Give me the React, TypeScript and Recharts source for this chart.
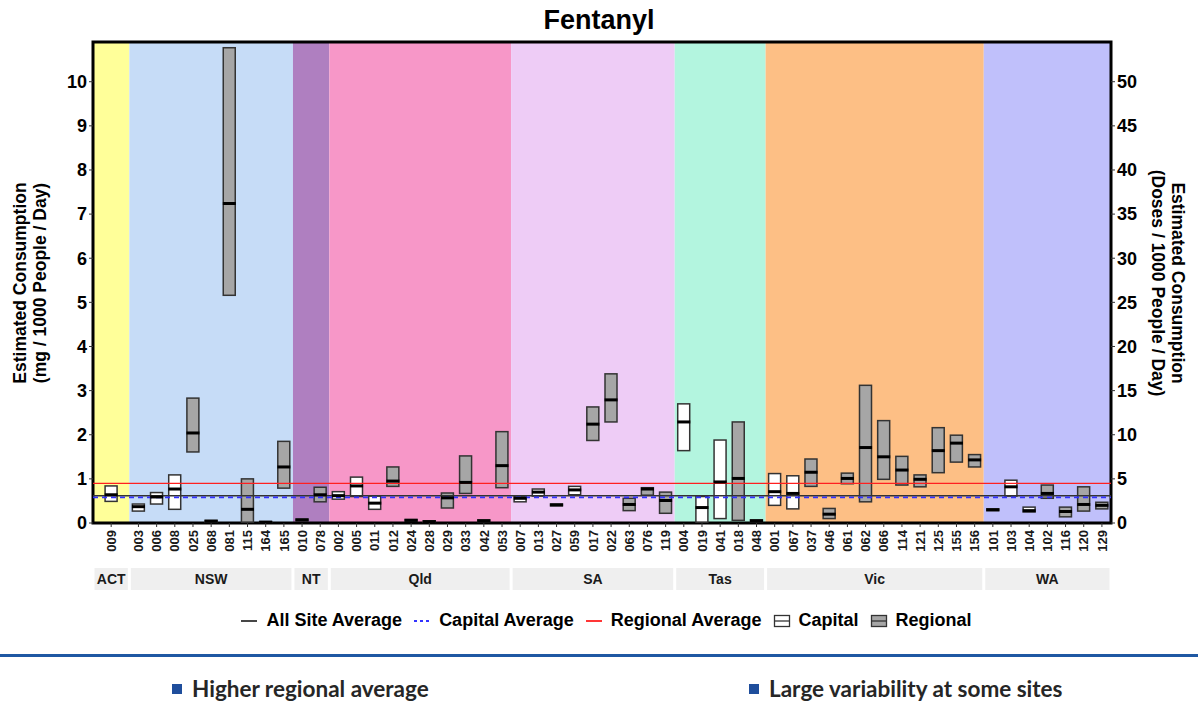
import React from "react";
import {
  ComposedChart,
  Bar,
  Scatter,
  XAxis,
  YAxis,
  ReferenceArea,
  ReferenceLine,
} from "recharts";

// states (facets) and how many slots each one takes on the x axis
const states = ["ACT", "NSW", "NT", "Qld", "SA", "Tas", "Vic", "WA"];
const stateSlots = [2, 9, 2, 10, 9, 5, 12, 7];
const stateColors = [
  "#FFFF99",
  "#C6DCF7",
  "#AF7FC0",
  "#F797C8",
  "#EECCF6",
  "#B3F5DF",
  "#FDBF85",
  "#C0C0FB",
];

const siteCodes = [
  "009",
  "003", "006", "008", "025", "068", "081", "115", "164", "165",
  "010", "078",
  "002", "005", "011", "012", "024", "028", "029", "033", "042", "053",
  "007", "013", "027", "059", "017", "022", "063", "076", "119",
  "004", "019", "041", "018", "048",
  "001", "067", "037", "046", "061", "062", "066", "114", "121", "125", "155", "156",
  "101", "103", "104", "102", "116", "120", "129",
];
const siteState = [
  "ACT",
  "NSW", "NSW", "NSW", "NSW", "NSW", "NSW", "NSW", "NSW", "NSW",
  "NT", "NT",
  "Qld", "Qld", "Qld", "Qld", "Qld", "Qld", "Qld", "Qld", "Qld", "Qld",
  "SA", "SA", "SA", "SA", "SA", "SA", "SA", "SA", "SA",
  "Tas", "Tas", "Tas", "Tas", "Tas",
  "Vic", "Vic", "Vic", "Vic", "Vic", "Vic", "Vic", "Vic", "Vic", "Vic", "Vic", "Vic",
  "WA", "WA", "WA", "WA", "WA", "WA", "WA",
];
// C = capital, R = regional
const siteType = [
  "C",
  "C", "C", "C", "R", "R", "R", "R", "R", "R",
  "R", "R",
  "C", "C", "C", "R", "R", "R", "R", "R", "R", "R",
  "C", "C", "C", "C", "R", "R", "R", "R", "R",
  "C", "C", "C", "R", "R",
  "C", "C", "R", "R", "R", "R", "R", "R", "R", "R", "R", "R",
  "R", "C", "C", "R", "R", "R", "R",
];
const lowValues = [
  0.49,
  0.27, 0.43, 0.31, 1.61, 0.02, 5.16, 0.02, 0.01, 0.79,
  0.05, 0.48,
  0.54, 0.6, 0.31, 0.83, 0.04, 0.01, 0.34, 0.67, 0.03, 0.8,
  0.48, 0.61, 0.39, 0.64, 1.87, 2.29, 0.28, 0.63, 0.22,
  1.64, 0.02, 0.1, 0.06, 0.03,
  0.4, 0.32, 0.83, 0.1, 0.89, 0.48, 0.99, 0.86, 0.82, 1.14, 1.38, 1.27,
  0.28, 0.61, 0.25, 0.56, 0.14, 0.27, 0.32,
];
const highValues = [
  0.84,
  0.43, 0.69, 1.09, 2.83, 0.06, 10.77, 1.0, 0.03, 1.85,
  0.09, 0.81,
  0.71, 1.04, 0.61, 1.27, 0.08, 0.05, 0.68, 1.52, 0.07, 2.07,
  0.61, 0.77, 0.43, 0.83, 2.63, 3.38, 0.56, 0.8, 0.7,
  2.7, 0.6, 1.88, 2.29, 0.07,
  1.12, 1.07, 1.45, 0.33, 1.13, 3.12, 2.32, 1.51, 1.09, 2.16, 1.99, 1.55,
  0.32, 0.97, 0.36, 0.86, 0.36, 0.82, 0.47,
];
const medianValues = [
  0.64,
  0.37, 0.59, 0.77, 2.04, 0.04, 7.24, 0.31, 0.02, 1.27,
  0.07, 0.64,
  0.62, 0.84, 0.45, 0.95, 0.06, 0.03, 0.57, 0.92, 0.05, 1.3,
  0.56, 0.7, 0.41, 0.75, 2.24, 2.79, 0.42, 0.77, 0.51,
  2.29, 0.35, 0.93, 1.01, 0.05,
  0.71, 0.67, 1.15, 0.2, 1.01, 1.71, 1.5, 1.2, 0.99, 1.64, 1.81, 1.43,
  0.3, 0.82, 0.28, 0.67, 0.26, 0.42, 0.4,
];

const allSiteAverage = 0.62;
const capitalAverage = 0.58;
const regionalAverage = 0.9;

const leftTicks = [0, 1, 2, 3, 4, 5, 6, 7, 8, 9, 10];
const rightTicks = [0, 5, 10, 15, 20, 25, 30, 35, 40, 45, 50];
const yMax = 10.9;
const dosesPerMg = 5;

// slot layout
const stateStart: number[] = [];
stateSlots.reduce((acc, s, i) => {
  stateStart[i] = acc;
  return acc + s;
}, 0);
const totalSlots = stateSlots.reduce((a, b) => a + b, 0);

const data = siteCodes.map((code, i) => {
  const si = states.indexOf(siteState[i]);
  const members = siteState.filter((s) => s === siteState[i]).length;
  const idx = siteState.slice(0, i).filter((s) => s === siteState[i]).length;
  const x = stateStart[si] + (stateSlots[si] - members) / 2 + idx + 0.5;
  return {
    code,
    x,
    type: siteType[i],
    range: [lowValues[i], highValues[i]],
    median: medianValues[i],
  };
});

const stripTicks = states.map((_, i) => stateStart[i] + stateSlots[i] / 2);

const W = 1198;
const PLOT_L = 93;
const PLOT_R = 1111;
const slotPx = (PLOT_R - PLOT_L) / totalSlots;

const font = "'Liberation Sans', Arial, sans-serif";

const BoxShape = (p: any) => {
  const { x, y, width, height, payload } = p;
  if (x == null || y == null) return null;
  const top = height < 0 ? y + height : y;
  return (
    <rect
      x={x}
      y={top}
      width={width}
      height={Math.abs(height)}
      fill={payload.type === "C" ? "#ffffff" : "#a6a6a6"}
      stroke="#333333"
      strokeWidth={1.5}
    />
  );
};

const MedianShape = (p: any) => (
  <line
    x1={p.cx - 6.5}
    x2={p.cx + 6.5}
    y1={p.cy}
    y2={p.cy}
    stroke="#000"
    strokeWidth={3}
  />
);

const SiteTick = (p: any) => {
  const { x, y, payload } = p;
  const d = data.find((r) => r.x === payload.value);
  return (
    <text
      x={x}
      y={y}
      transform={`rotate(-90, ${x}, ${y})`}
      textAnchor="end"
      dy="0.36em"
      fontFamily={font}
      fontWeight="bold"
      fontSize={13}
      fill="#1a1a1a"
    >
      {d ? d.code : ""}
    </text>
  );
};

const StripTick = (p: any) => {
  const { x, y, payload } = p;
  const i = stripTicks.indexOf(payload.value);
  const w = stateSlots[i] * slotPx - 3;
  return (
    <g>
      <rect x={x - w / 2} y={y + 3} width={w} height={22} fill="#efefef" />
      <text
        x={x}
        y={y + 19}
        textAnchor="middle"
        fontFamily={font}
        fontWeight="bold"
        fontSize={14}
        fill="#1a1a1a"
      >
        {states[i]}
      </text>
    </g>
  );
};

const LeftTitle = () => (
  <text
    transform="translate(30, 283) rotate(-90)"
    textAnchor="middle"
    fontFamily={font}
    fontWeight="bold"
    fontSize={17.5}
    fill="#000"
  >
    <tspan x={0} dy={-4}>Estimated Consumption</tspan>
    <tspan x={0} dy={20}>(mg / 1000 People / Day)</tspan>
  </text>
);

const RightTitle = () => (
  <text
    transform="translate(1168, 283) rotate(90)"
    textAnchor="middle"
    fontFamily={font}
    fontWeight="bold"
    fontSize={17.5}
    fill="#000"
  >
    <tspan x={0} dy={-4}>Estimated Consumption</tspan>
    <tspan x={0} dy={20}>(Doses / 1000 People / Day)</tspan>
  </text>
);

const legendItems = [
  { label: "All Site Average", kind: "line", color: "#333333", dash: "" },
  { label: "Capital Average", kind: "line", color: "#3333ff", dash: "3 3" },
  { label: "Regional Average", kind: "line", color: "#ff2020", dash: "" },
  { label: "Capital", kind: "box", color: "#ffffff", dash: "" },
  { label: "Regional", kind: "box", color: "#a6a6a6", dash: "" },
];

export default function App() {
  return (
    <div
      style={{
        position: "absolute",
        left: 0,
        top: 0,
        width: W,
        height: 718,
        background: "#fff",
        fontFamily: font,
      }}
    >
      <div
        style={{
          position: "absolute",
          top: 5,
          width: W,
          textAlign: "center",
          fontSize: 27,
          fontWeight: "bold",
          color: "#000",
        }}
      >
        Fentanyl
      </div>
      <ComposedChart
        width={W}
        height={600}
        data={data}
        margin={{ top: 42, right: 0, bottom: 5, left: 0 }}
        style={{ position: "absolute", left: 0, top: 0 }}
      >
        <XAxis
          xAxisId="site"
          type="number"
          dataKey="x"
          domain={[0, totalSlots]}
          allowDataOverflow
          ticks={data.map((d) => d.x)}
          interval={0}
          tick={<SiteTick />}
          tickSize={4}
          tickMargin={3}
          tickLine={{ stroke: "#333", strokeWidth: 1 }}
          axisLine={false}
          height={42}
        />
        <XAxis
          xAxisId="strip"
          type="number"
          dataKey="x"
          domain={[0, totalSlots]}
          allowDataOverflow
          ticks={stripTicks}
          interval={0}
          tick={<StripTick />}
          tickLine={false}
          tickSize={0}
          tickMargin={0}
          axisLine={false}
          height={30}
        />
        <YAxis
          yAxisId="left"
          type="number"
          domain={[0, yMax]}
          allowDataOverflow
          ticks={leftTicks}
          interval={0}
          width={PLOT_L}
          tickSize={4}
          tickMargin={2}
          tickLine={{ stroke: "#333", strokeWidth: 1 }}
          axisLine={false}
          tick={{ fontFamily: font, fontWeight: "bold", fontSize: 18, fill: "#000" }}
          label={{ content: <LeftTitle /> }}
        />
        <YAxis
          yAxisId="right"
          orientation="right"
          type="number"
          domain={[0, yMax * dosesPerMg]}
          allowDataOverflow
          ticks={rightTicks}
          interval={0}
          width={W - PLOT_R}
          tickSize={4}
          tickMargin={2}
          tickLine={{ stroke: "#333", strokeWidth: 1 }}
          axisLine={false}
          tick={{ fontFamily: font, fontWeight: "bold", fontSize: 18, fill: "#000" }}
          label={{ content: <RightTitle /> }}
        />
        {states.map((s, i) => (
          <ReferenceArea
            key={s}
            xAxisId="site"
            yAxisId="left"
            x1={stateStart[i]}
            x2={stateStart[i] + stateSlots[i]}
            y1={0}
            y2={yMax}
            fill={stateColors[i]}
            fillOpacity={1}
            stroke="none"
          />
        ))}
        <ReferenceLine
          xAxisId="site"
          yAxisId="left"
          y={regionalAverage}
          stroke="#ff2020"
          strokeWidth={1.3}
        />
        <ReferenceLine
          xAxisId="site"
          yAxisId="left"
          y={allSiteAverage}
          stroke="#333333"
          strokeWidth={1.5}
        />
        <ReferenceLine
          xAxisId="site"
          yAxisId="left"
          y={capitalAverage}
          stroke="#3333ff"
          strokeWidth={1.8}
          strokeDasharray="5 4"
        />
        <Bar
          xAxisId="site"
          yAxisId="left"
          dataKey="range"
          barSize={12}
          shape={<BoxShape />}
          isAnimationActive={false}
        />
        <Scatter
          xAxisId="site"
          yAxisId="left"
          dataKey="median"
          shape={<MedianShape />}
          isAnimationActive={false}
        />
        <ReferenceArea
          xAxisId="site"
          yAxisId="left"
          x1={0}
          x2={totalSlots}
          y1={0}
          y2={yMax}
          fill="none"
          stroke="#000"
          strokeWidth={3}
        />
      </ComposedChart>

      {/* legend */}
      <div
        style={{
          position: "absolute",
          top: 610,
          left: 0,
          width: W,
          display: "flex",
          justifyContent: "center",
          alignItems: "center",
          gap: 11,
          fontSize: 18,
          fontWeight: "bold",
          color: "#000",
          paddingLeft: 14,
          boxSizing: "border-box",
        }}
      >
        {legendItems.map((it) => (
          <div key={it.label} style={{ display: "flex", alignItems: "center", gap: 8 }}>
            <svg width={18} height={16}>
              {it.kind === "line" ? (
                <line
                  x1={1}
                  x2={17}
                  y1={8}
                  y2={8}
                  stroke={it.color}
                  strokeWidth={1.8}
                  strokeDasharray={it.dash}
                />
              ) : (
                <g>
                  <rect x={1.5} y={2.5} width={15} height={11} fill={it.color} stroke="#333" strokeWidth={1.3} />
                  <line x1={1.5} x2={16.5} y1={8} y2={8} stroke="#333" strokeWidth={1.3} />
                </g>
              )}
            </svg>
            <span>{it.label}</span>
          </div>
        ))}
      </div>

      <div
        style={{
          position: "absolute",
          top: 654,
          left: 0,
          width: W,
          height: 3,
          background: "#1f58a3",
        }}
      />

      {[
        { text: "Higher regional average", left: 172 },
        { text: "Large variability at some sites", left: 749 },
      ].map((b) => (
        <div
          key={b.text}
          style={{
            position: "absolute",
            top: 675,
            left: b.left,
            display: "flex",
            alignItems: "center",
            gap: 10,
            fontFamily: "Lato, 'Open Sans', sans-serif",
            fontWeight: 700,
            fontSize: 22.5,
            color: "#262626",
          }}
        >
          <span style={{ width: 10, height: 10, background: "#1f4e9c", display: "inline-block" }} />
          <span>{b.text}</span>
        </div>
      ))}
    </div>
  );
}
